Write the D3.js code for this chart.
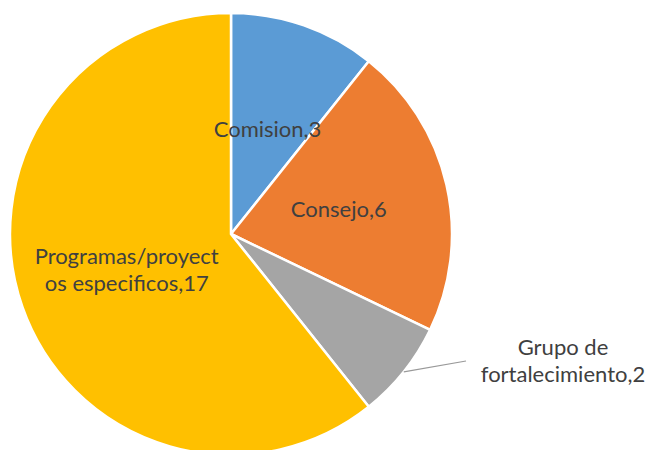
<!DOCTYPE html>
<html>
<head>
<meta charset="utf-8">
<script src="https://cdn.jsdelivr.net/npm/d3@7"></script>
<style>
  body { margin: 0; background: #fff; }
  text { font-family: Lato, "Open Sans", sans-serif; fill: #404040; }
</style>
</head>
<body>
<script>
  // data
  let categories = ["Comision", "Consejo", "Grupo de fortalecimiento", "Programas/proyectos especificos"]
  let values = [3, 6, 2, 17]
  let labelLines = [
    ["Comision,3"],
    ["Consejo,6"],
    ["Grupo de", "fortalecimiento,2"],
    ["Programas/proyect", "os especificos,17"]
  ]
  let colors = ["#5b9bd5", "#ed7d31", "#a5a5a5", "#ffc000"]

  let w = 651
  let h = 450
  let cx = 231
  let cy = 234
  let r = 221
  let fontSize = 22
  let lineH = 27

  let svg = d3.select("body")
              .append("svg")
              .attr("width", w)
              .attr("height", h)

  let data = categories.map((c, i) => ({ name: c, value: values[i], lines: labelLines[i], color: colors[i] }))

  let pie = d3.pie().sort(null).value(d => d.value)
  let arc = d3.arc().innerRadius(0).outerRadius(r)
  let arcs = pie(data)

  let g = svg.append("g").attr("transform", "translate(" + cx + "," + cy + ")")

  g.selectAll("path")
   .data(arcs)
   .enter()
   .append("path")
   .attr("d", arc)
   .attr("fill", d => d.data.color)
   .attr("stroke", "#fff")
   .attr("stroke-width", 2.5)

  // labels inside: on the centroid; small slice gets an outside label with a leader
  arcs.forEach((a, i) => {
    let mid = (a.startAngle + a.endAngle) / 2
    let tx, ty
    if (a.data.value > 2) {
      let c = arc.centroid(a)
      tx = c[0]
      ty = c[1]
    } else {
      let p0 = [Math.sin(mid) * r, -Math.cos(mid) * r]
      let p1 = [235, 127]
      g.append("line")
       .attr("x1", p0[0]).attr("y1", p0[1])
       .attr("x2", p1[0]).attr("y2", p1[1])
       .attr("stroke", "#999")
       .attr("stroke-width", 1.2)
      tx = 332
      ty = 127
    }
    let n = a.data.lines.length
    let t = g.append("text")
             .attr("text-anchor", "middle")
             .attr("font-size", fontSize)
    a.data.lines.forEach((line, j) => {
      t.append("tspan")
       .attr("x", tx)
       .attr("y", ty + (j - (n - 1) / 2) * lineH + 7.5)
       .text(line)
    })
  })
</script>
</body>
</html>
